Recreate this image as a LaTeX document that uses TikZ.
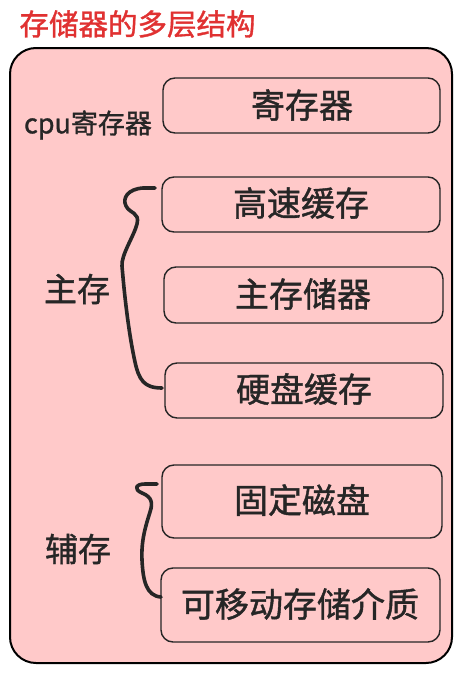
\documentclass[tikz,border=0pt]{standalone}
\usepackage{fontspec}
\setmainfont[FakeBold=1.2]{Noto Sans CJK SC}
\begin{document}
\begin{tikzpicture}[x=1pt,y=-1pt,
  outer/.style={draw=black,line width=2pt,fill=boxpink,rounded corners=26pt},
  item/.style={draw=black!85,line width=1.4pt,rounded corners=12pt},
  itemtext/.style={font=\fontsize{34}{38}\selectfont,text=black!85},
  sidetext/.style={font=\fontsize{33}{36}\selectfont,text=black!85},
  brace/.style={draw=black!85,line width=3.6pt,line cap=round,line join=round}]
\definecolor{boxpink}{HTML}{FFC9C9}
\definecolor{titlered}{HTML}{E03131}
\useasboundingbox (0,0) rectangle (461,675);
\node[font=\fontsize{29.5}{32}\selectfont,text=titlered,anchor=west] (title) at (16,24) {存储器的多层结构};
\draw[outer] (10,48) rectangle (452,663);
\draw[item] (163,78) rectangle (440,133);
\node[itemtext] (b1) at (302,105) {寄存器};
\draw[item] (162,177) rectangle (440,232);
\node[itemtext] (b2) at (301,203) {高速缓存};
\draw[item] (164,267) rectangle (443,323);
\node[itemtext] (b3) at (303,294) {主存储器};
\draw[item] (165,363) rectangle (443,418);
\node[itemtext] (b4) at (304,389) {硬盘缓存};
\draw[item] (162,465) rectangle (442,538);
\node[itemtext] (b5) at (302,500) {固定磁盘};
\draw[item] (161,568) rectangle (440,642);
\node[itemtext] (b6) at (300,604) {可移动存储介质};
\node[font=\fontsize{27}{30}\selectfont,text=black!85] (cpu) at (88,125) {cpu寄存器};
\node[sidetext] (main) at (77,289) {主存};
\node[sidetext] (aux) at (78,549) {辅存};
\draw[brace] (155,188) -- (143,188) .. controls (128,189) and (122,198) .. (126,206)
  .. controls (130,214) and (140,212) .. (137,224)
  .. controls (134,236) and (121,255) .. (122,266)
  .. controls (124,290) and (128,330) .. (135,362)
  .. controls (139,380) and (144,388) .. (162,388);
\draw[brace] (157,484) -- (145,484) .. controls (136,484) and (133,489) .. (142,493)
  .. controls (152,497) and (153,503) .. (150,512)
  .. controls (146,525) and (141,540) .. (142,560)
  .. controls (143,580) and (146,596) .. (161,597);
\end{tikzpicture}
\end{document}
